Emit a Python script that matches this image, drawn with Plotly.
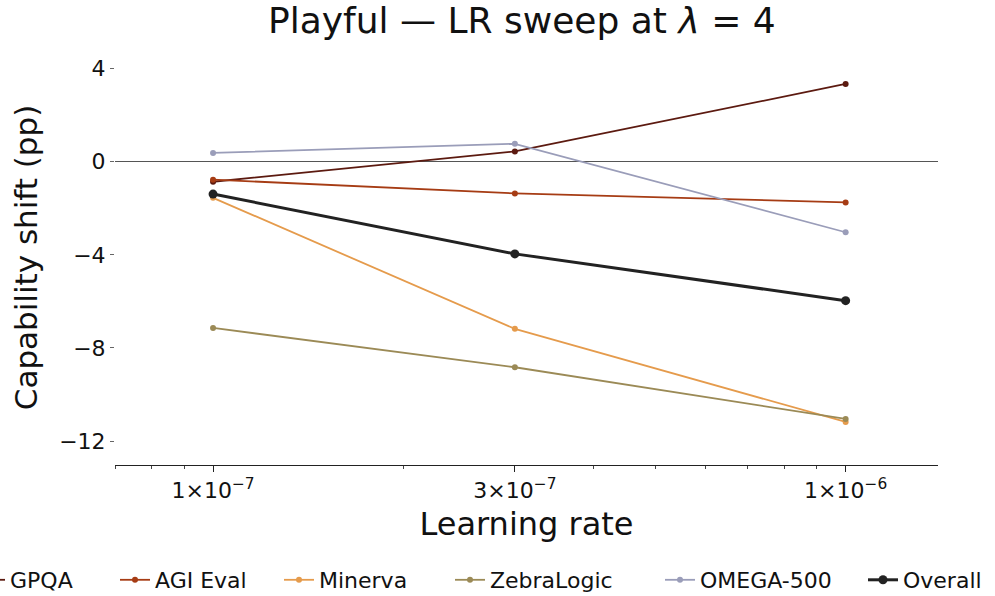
import plotly.graph_objects as go

# Learning rates swept (log scale) and capability shift per benchmark (pp)
learning_rates = [1e-7, 3e-7, 1e-6]
gpqa = [-0.86, 0.44, 3.34]
agi_eval = [-0.77, -1.36, -1.75]
minerva = [-1.55, -7.18, -11.18]
zebralogic = [-7.14, -8.83, -11.05]
omega_500 = [0.38, 0.77, -3.03]
overall = [-1.39, -3.96, -5.97]

x_tick_vals = [1e-7, 3e-7, 1e-6]
x_tick_text = ["1×10<sup>−7</sup>", "3×10<sup>−7</sup>", "1×10<sup>−6</sup>"]
x_minor_vals = [7e-8, 8e-8, 9e-8, 2e-7, 4e-7, 5e-7, 6e-7, 7e-7, 8e-7, 9e-7]
y_tick_vals = [4, 0, -4, -8, -12]
y_tick_text = ["4", "0", "−4", "−8", "−12"]

FONT = "DejaVu Sans"

series = [
    ("GPQA", gpqa, "#5c1a10", 1.8, 6),
    ("AGI Eval", agi_eval, "#a63c14", 1.8, 6),
    ("Minerva", minerva, "#e59b4c", 1.8, 6),
    ("ZebraLogic", zebralogic, "#9b8a56", 1.8, 6),
    ("OMEGA-500", omega_500, "#9a9db9", 1.8, 6),
    ("Overall", overall, "#222222", 3.0, 9),
]

# plot area in pixels (the legend row is positioned relative to it)
PL, PR, PT, PB = 115, 938, 50, 465
PW, PH = PR - PL, PB - PT

# each legend entry gets its own legend box so the row spacing can be set
legend_text_x = [10, 155, 319, 490, 700, 903]

fig = go.Figure()
layout_legends = {}
for i, (name, vals, color, width, msize) in enumerate(series):
    key = "legend" if i == 0 else f"legend{i + 1}"
    fig.add_trace(go.Scatter(
        x=learning_rates, y=vals, name=name, mode="lines+markers",
        line=dict(color=color, width=width),
        marker=dict(color=color, size=msize),
        legend=key,
    ))
    layout_legends[key] = dict(
        xref="paper", yref="paper",
        x=(legend_text_x[i] - 40 - PL) / PW, xanchor="left",
        y=(PB - 580) / PH, yanchor="middle",
        orientation="h", bgcolor="rgba(0,0,0,0)",
        font=dict(family=FONT, size=22, color="#111111"),
        itemwidth=30,
    )

fig.update_layout(
    width=995, height=596,
    margin=dict(l=PL, r=995 - PR, t=PT, b=596 - PB, autoexpand=False),
    paper_bgcolor="white", plot_bgcolor="white",
    font=dict(family=FONT, color="#111111"),
    title=dict(
        text="Playful — LR sweep at <i>λ</i> = 4",
        x=0.5245, xanchor="center", y=0.965, yanchor="middle",
        xref="container", yref="container",
        font=dict(family=FONT, size=36, color="#111111"),
    ),
    showlegend=True,
    **layout_legends,
)

fig.update_xaxes(
    type="log",
    range=[-7.155, -5.854],
    tickvals=x_tick_vals, ticktext=x_tick_text,
    tickfont=dict(family=FONT, size=22, color="#111111"),
    ticks="outside", ticklen=6, tickwidth=1, tickcolor="#222222",
    minor=dict(tickvals=x_minor_vals, ticks="outside", ticklen=3,
               tickwidth=1, tickcolor="#444444", showgrid=False),
    showline=True, linecolor="#222222", linewidth=1,
    showgrid=False, zeroline=False,
    title=dict(text="Learning rate", font=dict(family=FONT, size=32, color="#111111"),
               standoff=10),
)

fig.update_yaxes(
    range=[-13.03, 4.8],
    tickvals=y_tick_vals, ticktext=y_tick_text,
    tickfont=dict(family=FONT, size=22, color="#111111"),
    ticks="outside", ticklen=4, tickwidth=1, tickcolor="#666666",
    showline=False, showgrid=False,
    zeroline=True, zerolinecolor="#555555", zerolinewidth=1.2,
    title=dict(text="Capability shift (pp)",
               font=dict(family=FONT, size=31, color="#111111"), standoff=12),
)

fig.write_html("out.html")
